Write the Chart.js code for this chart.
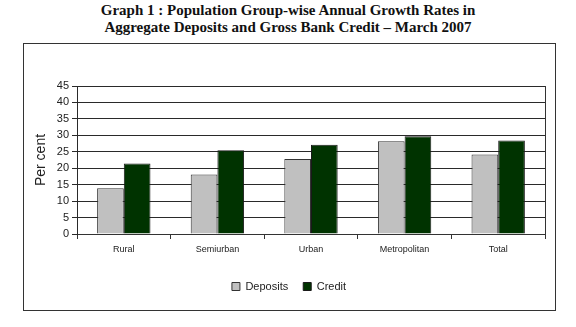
<!DOCTYPE html>
<html>
<head>
<meta charset="utf-8">
<script src="https://cdn.jsdelivr.net/npm/chart.js@4"></script>
<style>
  body { margin: 0; width: 576px; height: 327px; background: #fff; position: relative; overflow: hidden; }
  #title {
    position: absolute; left: 0; top: 2px; width: 576px; text-align: center;
    font: bold 15px "Liberation Serif", "DejaVu Serif", serif; line-height: 17px; color: #111;
  }
  #box {
    position: absolute; left: 23px; top: 43px; width: 533px; height: 268px;
    box-sizing: border-box; border: 1px solid #333;
  }
  #wrap { position: absolute; left: 0; top: 0; width: 531px; height: 266px; }
</style>
</head>
<body>
<div id="title">Graph 1 : Population Group-wise Annual Growth Rates in<br>Aggregate Deposits and Gross Bank Credit – March 2007</div>
<div id="box"><div id="wrap"><canvas id="chart"></canvas></div></div>
<script>
// values (per cent)
const categories = ['Rural', 'Semiurban', 'Urban', 'Metropolitan', 'Total'];
const deposits = [13.9, 18.1, 22.8, 28.2, 24.2];
const credit = [21.4, 25.5, 27.1, 29.7, 28.4];
const yTicks = [0, 5, 10, 15, 20, 25, 30, 35, 40, 45];

// right edge of the plot area, like the Excel frame
const plotFrame = {
    id: 'plotFrame',
    afterDraw(chart) {
        const a = chart.chartArea;
        const ctx = chart.ctx;
        ctx.save();
        ctx.strokeStyle = '#333';
        ctx.lineWidth = 1;
        ctx.beginPath();
        ctx.moveTo(Math.round(a.right) + 0.5, a.top);
        ctx.lineTo(Math.round(a.right) + 0.5, a.bottom);
        ctx.stroke();
        ctx.restore();
    }
};

new Chart(document.getElementById('chart'), {
    type: 'bar',
    data: {
        labels: categories,
        datasets: [{
            label: 'Deposits',
            data: deposits,
            backgroundColor: '#c0c0c0',
            borderColor: '#333',
            borderWidth: 1
        }, {
            label: 'Credit',
            data: credit,
            backgroundColor: '#003300',
            borderColor: '#1a1a1a',
            borderWidth: 1
        }]
    },
    options: {
        responsive: true,
        maintainAspectRatio: false,
        animation: false,
        layout: { padding: { left: 9, right: 10, top: 42, bottom: 8 } },
        datasets: { bar: { categoryPercentage: 0.57, barPercentage: 1.0 } },
        plugins: {
            legend: {
                position: 'bottom',
                labels: {
                    font: { family: 'Liberation Sans', size: 11 },
                    color: '#222',
                    boxWidth: 8,
                    boxHeight: 8,
                    padding: 15
                }
            },
            tooltip: { enabled: false }
        },
        scales: {
            x: {
                grid: { display: true, drawOnChartArea: false, drawTicks: true, tickLength: 5, color: '#333' },
                border: { color: '#333' },
                ticks: { font: { family: 'Liberation Sans', size: 9 }, color: '#222', padding: 5 },
                afterFit(scale) { scale.height = 32; }
            },
            y: {
                min: 0,
                max: 45,
                afterBuildTicks(scale) { scale.ticks = yTicks.map(v => ({ value: v })); },
                grid: { color: '#2a2a2a', tickLength: 5 },
                border: { color: '#2a2a2a' },
                ticks: { font: { family: 'Liberation Sans', size: 11 }, color: '#222', padding: 3 },
                title: { display: true, text: 'Per cent', font: { family: 'Liberation Sans', size: 14 }, color: '#222', padding: 0 },
                afterFit(scale) { scale.width = 44; }
            }
        }
    },
    plugins: [plotFrame]
});
</script>
</body>
</html>
